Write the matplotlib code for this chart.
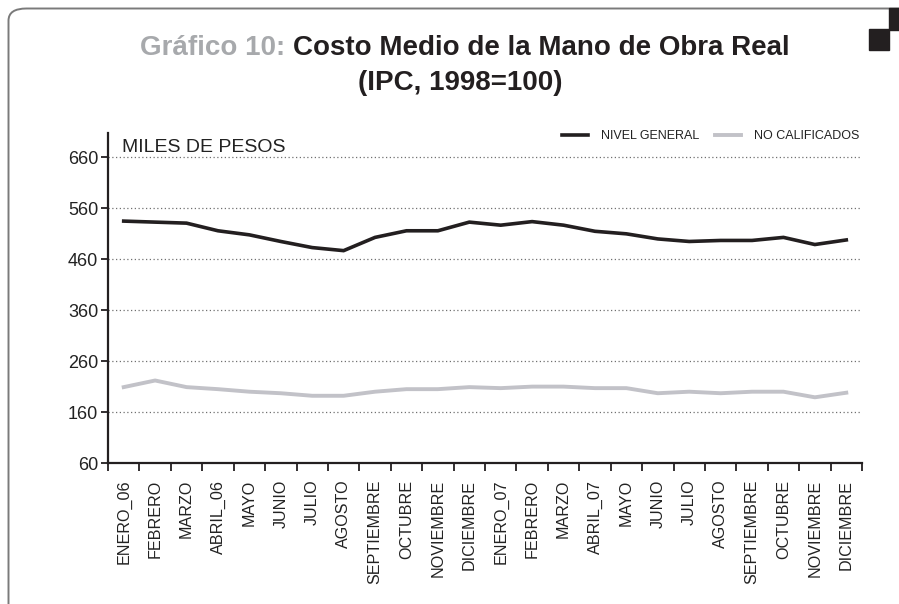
import matplotlib
matplotlib.use("Agg")
import matplotlib.pyplot as plt
from matplotlib import font_manager as fm
from matplotlib.patches import FancyBboxPatch, Rectangle

MONTHS = [
    "ENERO_06", "FEBRERO", "MARZO", "ABRIL_06", "MAYO", "JUNIO", "JULIO",
    "AGOSTO", "SEPTIEMBRE", "OCTUBRE", "NOVIEMBRE", "DICIEMBRE",
    "ENERO_07", "FEBRERO", "MARZO", "ABRIL_07", "MAYO", "JUNIO", "JULIO",
    "AGOSTO", "SEPTIEMBRE", "OCTUBRE", "NOVIEMBRE", "DICIEMBRE",
]
NIVEL_GENERAL = [535, 533, 531, 516, 508, 495, 483, 477, 503, 516, 516, 533,
                 527, 534, 527, 515, 510, 500, 495, 497, 497, 503, 489, 498]
NO_CALIFICADOS = [209, 222, 209, 205, 200, 197, 192, 192, 200, 205, 205, 209,
                  207, 210, 210, 207, 207, 197, 200, 197, 200, 200, 189, 198]
Y_TICKS = [60, 160, 260, 360, 460, 560, 660]

# pick a narrow face if one is installed
names = {f.name for f in fm.fontManager.ttflist}
if "Liberation Sans Narrow" in names:
    NARROW = dict(family="Liberation Sans Narrow")
else:
    NARROW = dict(family="Liberation Sans", stretch="condensed")
REGULAR = dict(family="Liberation Sans")

fig = plt.figure(figsize=(8.99, 6.04), dpi=100)

# rounded frame + corner blocks
W, H = 899, 604
frame = FancyBboxPatch((8.5 / W, -0.1), 1.2, 1 - 8.5 / H + 0.1,
                       boxstyle="round,pad=0,rounding_size=0.02",
                       transform=fig.transFigure, fill=False,
                       edgecolor="#7a7a7a", linewidth=1.4)
fig.add_artist(frame)
fig.add_artist(Rectangle((889 / W, 1 - 30 / H), 10 / W, 22 / H,
                         transform=fig.transFigure, color="#231f20"))
fig.add_artist(Rectangle((869 / W, 1 - 50 / H), 20 / W, 21 / H,
                         transform=fig.transFigure, color="#231f20"))

ax = fig.add_axes([108 / W, 1 - 463 / H, (862 - 108) / W, (463 - 133) / H])
x = range(len(MONTHS))
ax.plot(x, NIVEL_GENERAL, color="#231f20", lw=2.6, label="NIVEL GENERAL",
        solid_joinstyle="miter")
ax.plot(x, NO_CALIFICADOS, color="#c2c2c8", lw=2.8, label="NO CALIFICADOS")

ax.set_xlim(-0.5, len(MONTHS) - 0.5)
ax.set_ylim(60, 708)
ax.set_yticks(Y_TICKS)
ax.set_yticklabels([str(v) for v in Y_TICKS], fontsize=13, **NARROW)
ax.set_xticks([i - 0.5 for i in range(len(MONTHS) + 1)])
ax.set_xticklabels([])
ax.set_xticks(list(x), minor=True)
ax.set_xticklabels(MONTHS, minor=True, rotation=90, fontsize=11.6, color="#222222",
                   va="top", ha="center", **REGULAR)
ax.tick_params(axis="x", which="major", direction="out", length=6, width=1.3,
               color="#231f20")
ax.tick_params(axis="x", which="minor", length=0, pad=12)
ax.tick_params(axis="y", direction="out", length=5, width=1.3, pad=2,
               color="#231f20", labelcolor="#222222")

for v in Y_TICKS[1:]:
    ax.axhline(v, color="#707070", lw=0.9, ls=(0, (1, 2)), zorder=0)

for s in ["top", "right"]:
    ax.spines[s].set_visible(False)
for s in ["left", "bottom"]:
    ax.spines[s].set_linewidth(1.6)
    ax.spines[s].set_color("#231f20")

ax.text(122 / W, 1 - 147 / H, "MILES DE PESOS", transform=fig.transFigure,
        fontsize=14, color="#222222", va="center", ha="left", **NARROW)

leg = ax.legend(loc="center right", bbox_to_anchor=(868 / W, 1 - 136 / H),
                bbox_transform=fig.transFigure, ncol=2, frameon=False,
                handlelength=2.1, handletextpad=1.0, columnspacing=1.3,
                borderpad=0.2,
                prop=fm.FontProperties(size=9, **NARROW))
for t in leg.get_texts():
    t.set_color("#222222")

# two-colour title, first line
renderer = fig.canvas.get_renderer()
title_kw = dict(fontsize=20, fontweight="bold", va="center", **NARROW)
part1 = fig.text(0, 1 - 48 / H, "Gráfico 10: ", color="#a7a9ac", **title_kw)
part2 = fig.text(0, 1 - 48 / H, "Costo Medio de la Mano de Obra Real",
                 color="#231f20", **title_kw)
w1 = part1.get_window_extent(renderer).width
w2 = part2.get_window_extent(renderer).width
left = 465 - (w1 + w2) / 2
part1.set_x(left / W)
part2.set_x((left + w1) / W)
fig.text(460 / W, 1 - 83 / H, "(IPC, 1998=100)", color="#231f20",
         ha="center", **title_kw)

fig.savefig("out.png", dpi=100)
